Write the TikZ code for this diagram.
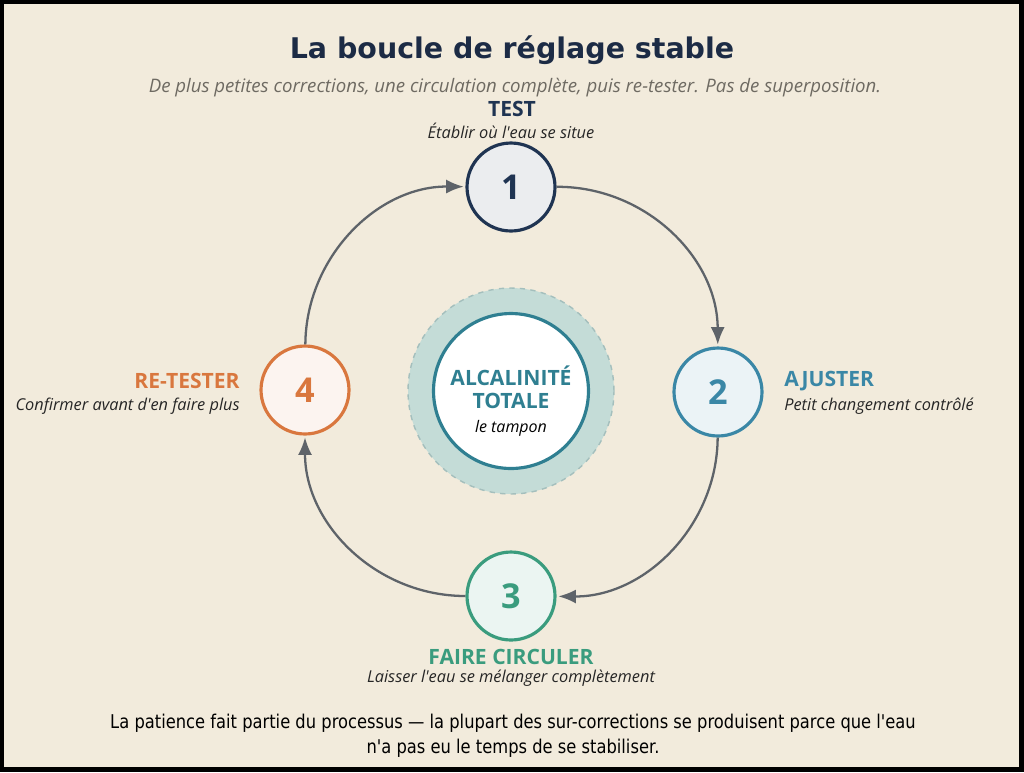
\documentclass[tikz,border=0pt]{standalone}
\usepackage{fontspec}
\setmainfont{Open Sans}[Ligatures=TeXOff]
\newfontfamily\titlefont{DejaVu Sans}
\newfontfamily\notefont[FakeStretch=0.86]{DejaVu Sans}
\usetikzlibrary{arrows.meta}

\definecolor{paper}{HTML}{F2EBDC}
\definecolor{navy}{HTML}{1C2B45}
\definecolor{subgray}{HTML}{6E6A62}
\definecolor{arrowgray}{HTML}{5E6369}
\definecolor{testcol}{HTML}{1F3452}
\definecolor{adjcol}{HTML}{3A87A6}
\definecolor{circcol}{HTML}{3A9C7E}
\definecolor{retestcol}{HTML}{D9773E}
\definecolor{ringfill}{HTML}{C4DCD7}
\definecolor{ringedge}{HTML}{A4BFBD}
\definecolor{corecol}{HTML}{2F7F91}

\tikzset{
    stepnode/.style={circle, minimum size=1.76cm, inner sep=0pt, line width=1.8pt,
        font=\fontsize{19.5}{22}\selectfont\bfseries},
    steptitle/.style={font=\fontsize{12}{14}\selectfont\bfseries, inner sep=0pt},
    stepnote/.style={font=\fontsize{9.3}{11}\selectfont\itshape, text=black!85, inner sep=0pt},
    flow/.style={draw=arrowgray, line width=1.3pt, -{Latex[length=10pt,width=8pt]}, shorten >=1pt}
}

\begin{document}
\begin{tikzpicture}[x=0.02cm,y=-0.02cm]
            \useasboundingbox (0,0) rectangle (1024,772);
            \fill[black] (0,0) rectangle (1024,772);
            \fill[paper] (4,4) rectangle (1019,767);

            \coordinate (C) at (511,391);
            \coordinate (P1) at (511,187);
            \coordinate (P2) at (718,392);
            \coordinate (P3) at (511,596);
            \coordinate (P4) at (305,390);

            \node (title) at (512,50) {\titlefont\bfseries\fontsize{16.2}{20}\selectfont\color{navy}La boucle de réglage stable};
            \node[font=\fontsize{10.6}{12}\selectfont\itshape, text=subgray] (subtitle) at (515,88)
                {De plus petites corrections, une circulation complète, puis re-tester. Pas de superposition.};

            \node[circle, minimum size=4.12cm, fill=ringfill, draw=ringedge, dashed, line width=0.8pt] (ring) at (C) {};
            \node[circle, minimum size=3.1cm, fill=white, draw=corecol, line width=1.8pt] (core) at (C) {};
            \node[align=center, text=corecol, font=\fontsize{12}{12.8}\selectfont\bfseries, inner sep=0pt] (corelabel) at (511,401)
                {ALCALINITÉ\\TOTALE\\[1pt]\normalfont\fontsize{9.1}{10}\selectfont\itshape\color{black}le tampon};

            \node[stepnode, draw=testcol, fill=testcol!9, text=testcol] (n1) at (P1) {1};
            \node[stepnode, draw=adjcol, fill=adjcol!10, text=adjcol] (n2) at (P2) {2};
            \node[stepnode, draw=circcol, fill=circcol!10, text=circcol] (n3) at (P3) {3};
            \node[stepnode, draw=retestcol, fill=retestcol!8, text=retestcol] (n4) at (P4) {4};

            \foreach \a/\b in {n1/n2,n2/n3,n3/n4,n4/n1} {
                \draw[flow] (\a) to[bend left=45] (\b);
            }

            \node[steptitle, text=testcol] (t1) at (512,109) {TEST};
            \node[stepnote] (d1) at (511,131) {Établir où l'eau se situe};
            \node[steptitle, text=adjcol, anchor=west] (t2) at (784,381) {AJUSTER};
            \node[stepnote, anchor=west] (d2) at (784,406) {Petit changement contrôlé};
            \node[steptitle, text=circcol] (t3) at (511,657) {FAIRE CIRCULER};
            \node[stepnote] (d3) at (511,678) {Laisser l'eau se mélanger complètement};
            \node[steptitle, text=retestcol, anchor=east] (t4) at (240,381) {RE-TESTER};
            \node[stepnote, anchor=east] (d4) at (240,406) {Confirmer avant d'en faire plus};

            \node[font=\notefont\fontsize{10.8}{14}\selectfont, align=center] (moral) at (513,736)
                {La patience fait partie du processus — la plupart des sur-corrections se produisent parce que l'eau\\
                 n'a pas eu le temps de se stabiliser.};
\end{tikzpicture}
\end{document}
